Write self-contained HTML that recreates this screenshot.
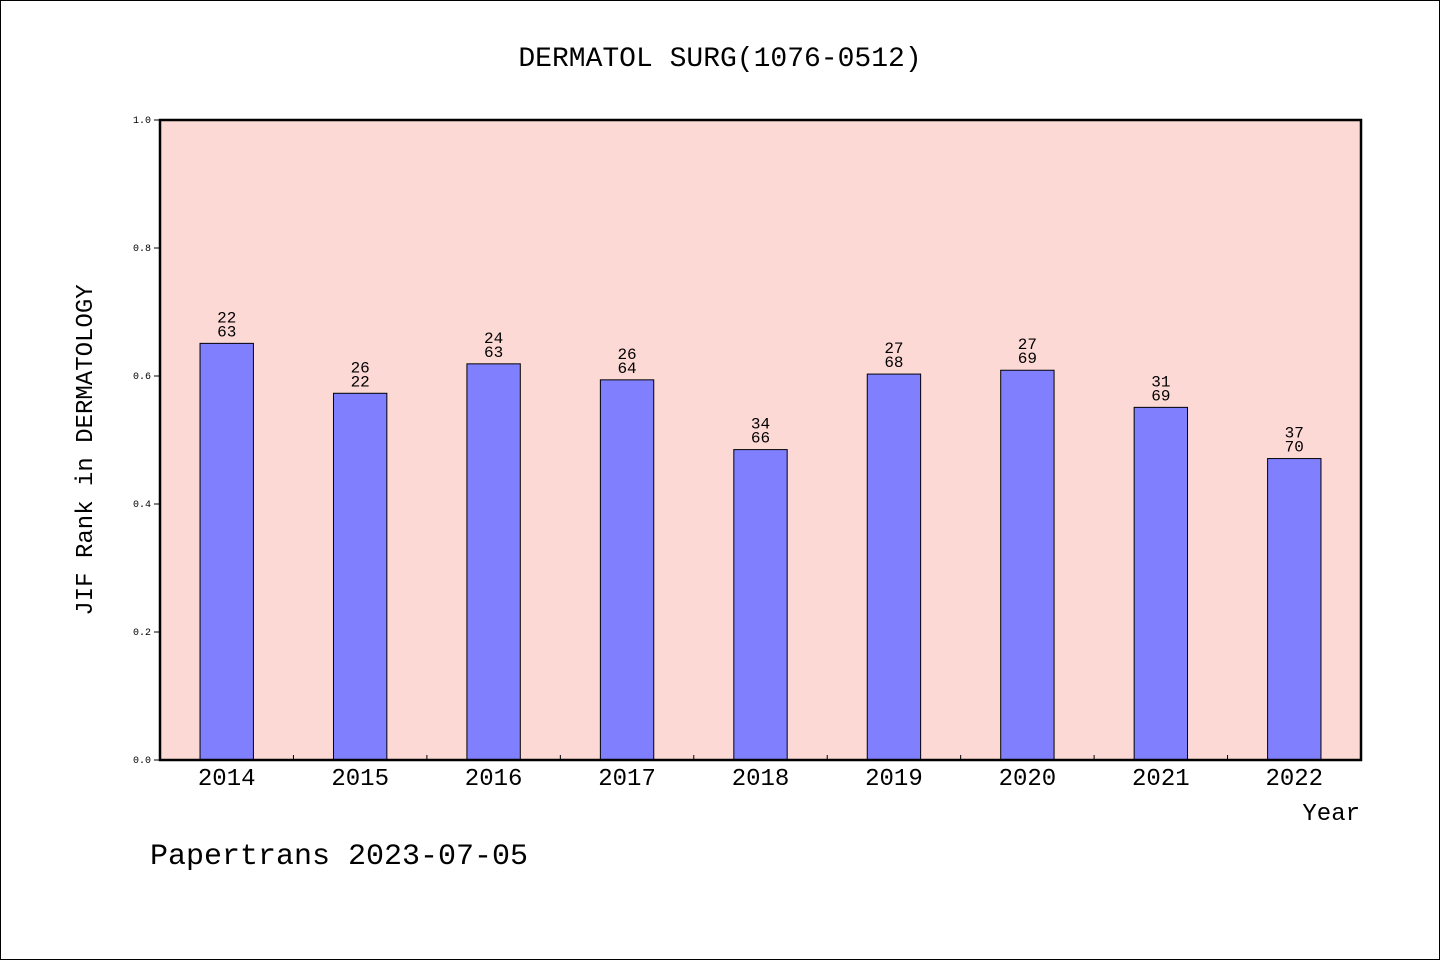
<!DOCTYPE html>
<html><head><meta charset="utf-8"><style>
body{margin:0;background:#fff}
svg text{font-family:"WenQuanYi Zen Hei","Liberation Mono",monospace;}
</style></head><body>
<svg width="1440" height="960" viewBox="0 0 1440 960">
<rect x="0.5" y="0.5" width="1439" height="959" fill="#fff" stroke="#000"/>
<text x="720" y="66" text-anchor="middle" font-size="28">DERMATOL SURG(1076-0512)</text>
<rect x="160" y="120" width="1201" height="640" fill="#fdd9d6"/>
<g id="yaxis"></g>
<g id="bars"></g>
<g id="xaxis"></g>
<rect x="160" y="120" width="1201" height="640" fill="none" stroke="#000" stroke-width="2.5"/>
<text x="92" y="450" text-anchor="middle" font-size="24" transform="rotate(-90 92 450)">JIF Rank in DERMATOLOGY</text>
<text x="1360" y="820" text-anchor="end" font-size="24">Year</text>
<text x="150" y="864" font-size="30">Papertrans 2023-07-05</text>
</svg>
<script>
const years=["2014","2015","2016","2017","2018","2019","2020","2021","2022"];
const values=[0.651,0.573,0.619,0.594,0.485,0.603,0.609,0.551,0.471];
const ranks=["22","26","24","26","34","27","27","31","37"];
const totals=["63","22","63","64","66","68","69","69","70"];
const yTicks=[0,0.2,0.4,0.6,0.8,1.0];
const X0=160,W=1201,Y0=760,H=640;
const NS="http://www.w3.org/2000/svg";
const y=v=>Y0-v*H;
const band=W/years.length;
const xc=i=>X0+band*(i+0.5);
function mk(t,a,p){const e=document.createElementNS(NS,t);for(const k in a)e.setAttribute(k,a[k]);p.appendChild(e);return e;}
const ya=document.getElementById('yaxis'),bg=document.getElementById('bars'),xa=document.getElementById('xaxis');
yTicks.forEach(v=>{
 const l=mk('line',{x1:X0-6,x2:X0,y1:y(v),y2:y(v),stroke:'#000'},ya);
 
 
 const t=mk('text',{x:X0-9,y:y(v)+3,'text-anchor':'end','font-size':10},ya);
 t.textContent=v.toFixed(1);
 
 
});
years.forEach((yr,i)=>{
 const bw=band*0.4;
 const r=mk('rect',{x:xc(i)-bw/2,y:y(values[i]),width:bw,height:values[i]*H,fill:'#8080ff',stroke:'#000','stroke-width':1},bg);
 
 
 const t1=mk('text',{x:xc(i),y:y(values[i])-21,'text-anchor':'middle','font-size':16},bg);
 t1.textContent=ranks[i];
 
 
 const t2=mk('text',{x:xc(i),y:y(values[i])-7,'text-anchor':'middle','font-size':16},bg);
 t2.textContent=totals[i];
 
 
 const xl=mk('text',{x:xc(i),y:785,'text-anchor':'middle','font-size':24},xa);
 xl.textContent=yr;
 
 
 if(i>0){const tk=mk('line',{x1:X0+band*i,x2:X0+band*i,y1:Y0,y2:Y0-5,stroke:'#000'},xa);
 
 }
});
</script>
</body></html>
